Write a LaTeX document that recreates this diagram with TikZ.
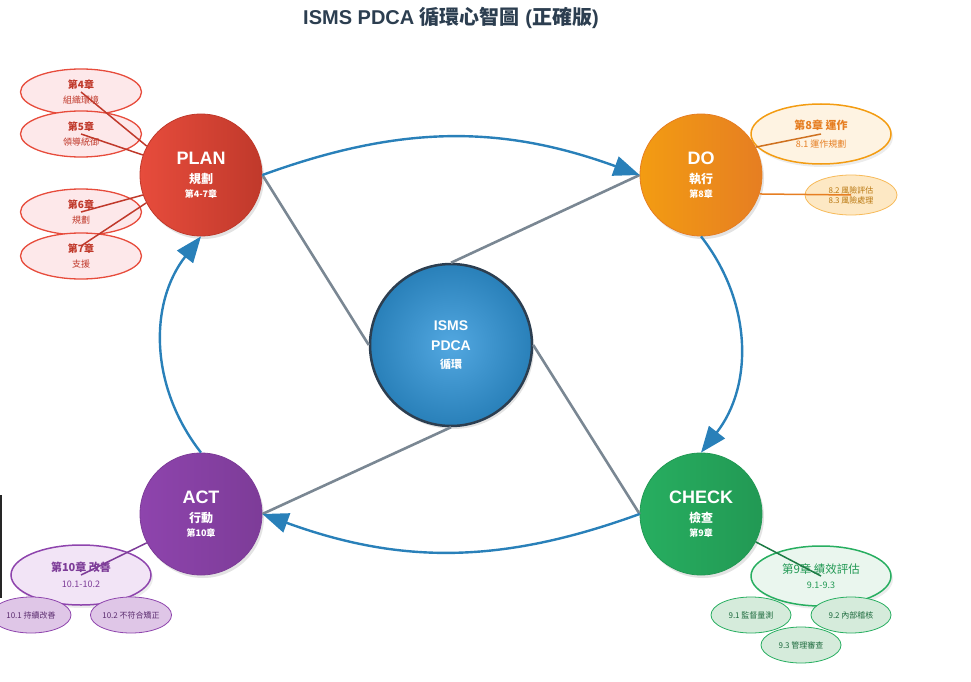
\documentclass[tikz,border=0pt]{standalone}
\usepackage{fontspec}
\setmainfont{Liberation Sans}
\newfontfamily\cjk{Noto Sans CJK TC}
\usetikzlibrary{shapes.geometric,shadows,arrows.meta}
\definecolor{planA}{HTML}{E74C3C}
\definecolor{planB}{HTML}{C0392B}
\definecolor{planBg}{HTML}{FDE8EA}
\definecolor{doA}{HTML}{F39C12}
\definecolor{doB}{HTML}{E67E22}
\definecolor{doBg}{HTML}{FEF3E2}
\definecolor{doLeaf}{HTML}{FDE8C4}
\definecolor{doTxt}{HTML}{B9770E}
\definecolor{chkA}{HTML}{27AE60}
\definecolor{chkB}{HTML}{229954}
\definecolor{chkBg}{HTML}{EAF6EE}
\definecolor{chkLeaf}{HTML}{D5EBDB}
\definecolor{chkTxt}{HTML}{1E6B3E}
\definecolor{actA}{HTML}{8E44AD}
\definecolor{actB}{HTML}{7D3C98}
\definecolor{actBg}{HTML}{F2E4F6}
\definecolor{actLeaf}{HTML}{DFC6E7}
\definecolor{actTxt}{HTML}{5B2C6F}
\definecolor{hubA}{HTML}{3498DB}
\definecolor{hubB}{HTML}{2980B9}
\definecolor{hubEdge}{HTML}{2C3E50}
\definecolor{spokeGray}{HTML}{7A8793}

\begin{document}
\begin{tikzpicture}[x=1pt,y=-1pt,
  phase/.style={circle, minimum size=122pt, inner sep=0pt, align=center, text=white, font=\bfseries, line width=0.8pt, drop shadow={opacity=0.22,shadow xshift=2pt,shadow yshift=-3pt}},
  topic/.style={ellipse, inner sep=0pt, align=center, line width=1.5pt, minimum width=140pt, minimum height=60pt, font=\cjk\fontsize{9}{12}\selectfont, drop shadow={opacity=0.15,shadow xshift=2pt,shadow yshift=-3pt}},
  chap/.style={ellipse, inner sep=0pt, align=center, line width=1.3pt, draw=planA, fill=planBg, text=planB, minimum width=121pt, minimum height=46pt, font=\cjk\fontsize{9}{11}\selectfont},
  leaf/.style={ellipse, inner sep=0pt, align=center, line width=0.8pt, minimum width=80pt, minimum height=36pt, font=\cjk\fontsize{8}{10}\selectfont},
  spoke/.style={draw=spokeGray, line width=2.6pt},
  cyc/.style={draw=hubB, line width=2.4pt, -{Triangle[length=26pt,width=20pt]}},
  twig/.style={line width=1.5pt}]
\useasboundingbox (0,0) rectangle (971,682);
\fill[black!85] (0,495) rectangle (1.5,598);
\node[font=\fontsize{20}{24}\selectfont\bfseries, text=hubEdge] (title) at (451,18) {ISMS PDCA {\cjk 循環心智圖} ({\cjk 正確版})};

\node[chap] (ch4) at (81,92) {{\bfseries\fontsize{10}{12}\selectfont 第4章}\\[4pt]組織環境};
\node[chap] (ch5) at (81,134) {{\bfseries\fontsize{10}{12}\selectfont 第5章}\\[4pt]領導統御};
\node[chap] (ch6) at (81,212) {{\bfseries\fontsize{10}{12}\selectfont 第6章}\\[4pt]規劃};
\node[chap] (ch7) at (81,256) {{\bfseries\fontsize{10}{12}\selectfont 第7章}\\[4pt]支援};

\node[topic, draw=doA, fill=doBg, text=doB] (ch8) at (821,134) {{\bfseries\fontsize{11}{13}\selectfont 第8章 運作}\\[6pt]8.1 運作規劃};
\node[leaf, draw=doA!70, fill=doLeaf, text=doTxt, minimum width=92pt, minimum height=40pt] (risk) at (851,195) {8.2 風險評估\\8.3 風險處理};

\node[topic, draw=chkA, fill=chkBg, text=chkB] (ch9) at (821,576) {{\fontsize{11.5}{13}\selectfont 第9章 績效評估}\\[3pt]9.1-9.3};
\node[leaf, draw=chkA, fill=chkLeaf, text=chkTxt] (c91) at (751,615) {9.1 監督量測};
\node[leaf, draw=chkA, fill=chkLeaf, text=chkTxt] (c92) at (851,615) {9.2 內部稽核};
\node[leaf, draw=chkA, fill=chkLeaf, text=chkTxt] (c93) at (801,645) {9.3 管理審查};

\node[topic, draw=actA, fill=actBg, text=actB] (ch10) at (81,575) {{\bfseries\fontsize{11}{13}\selectfont 第10章 改善}\\[4pt]10.1-10.2};
\node[leaf, draw=actA, fill=actLeaf, text=actTxt] (a101) at (31,615) {10.1 持續改善};
\node[leaf, draw=actA, fill=actLeaf, text=actTxt] (a102) at (131,615) {10.2 不符合矯正};

\node[phase, left color=planA, right color=planB, draw=planB] (plan) at (201,175) {{\fontsize{18}{20}\selectfont PLAN}\\[7pt]{\cjk\fontsize{12}{14}\selectfont 規劃}\\[2pt]{\cjk\fontsize{9}{11}\selectfont 第4-7章}};
\node[phase, left color=doA, right color=doB, draw=doB] (do) at (701,175) {{\fontsize{18}{20}\selectfont DO}\\[7pt]{\cjk\fontsize{12}{14}\selectfont 執行}\\[2pt]{\cjk\fontsize{9}{11}\selectfont 第8章}};
\node[phase, left color=chkA, right color=chkB, draw=chkB] (check) at (701,514) {{\fontsize{18}{20}\selectfont CHECK}\\[7pt]{\cjk\fontsize{12}{14}\selectfont 檢查}\\[2pt]{\cjk\fontsize{9}{11}\selectfont 第9章}};
\node[phase, left color=actA, right color=actB, draw=actB] (act) at (201,514) {{\fontsize{18}{20}\selectfont ACT}\\[7pt]{\cjk\fontsize{12}{14}\selectfont 行動}\\[2pt]{\cjk\fontsize{9}{11}\selectfont 第10章}};
\node[phase, minimum size=162pt, inner color=hubA!85!white, outer color=hubB, draw=hubEdge, line width=2.5pt] (hub) at (451,345) {{\fontsize{14}{17}\selectfont ISMS}\\[8pt]{\fontsize{14}{17}\selectfont PDCA}\\[6pt]{\cjk\fontsize{11}{13}\selectfont 循環}};

\draw[spoke] (plan.east) -- (hub.west);
\draw[spoke] (do.west) -- (hub.north);
\draw[spoke] (hub.east) -- (check.west);
\draw[spoke] (hub.south) -- (act.east);

\draw[cyc] (plan.east) to[bend left=20] (do.west);
\draw[cyc] (do.south) to[bend left=38] (check.north);
\draw[cyc] (check.west) to[bend left=20] (act.east);
\draw[cyc] (act.north) to[bend left=38] (plan.south);

\draw[twig, draw=planB] (ch4.center) -- (plan.152);
\draw[twig, draw=planB] (ch5.center) -- (plan.161);
\draw[twig, draw=planB] (ch6.center) -- (plan.199);
\draw[twig, draw=planB] ([yshift=10pt]ch7.center) -- (plan.207);
\draw[twig, draw=doB!90!black] (do.27) -- (ch8.center);
\draw[twig, draw=doB] (do.-18) -- (risk.center);
\draw[twig, draw=chkB!80!black] (check.-27) -- (ch9.center);
\draw[twig, draw=actB] (act.208) -- (ch10.center);
\end{tikzpicture}
\end{document}
